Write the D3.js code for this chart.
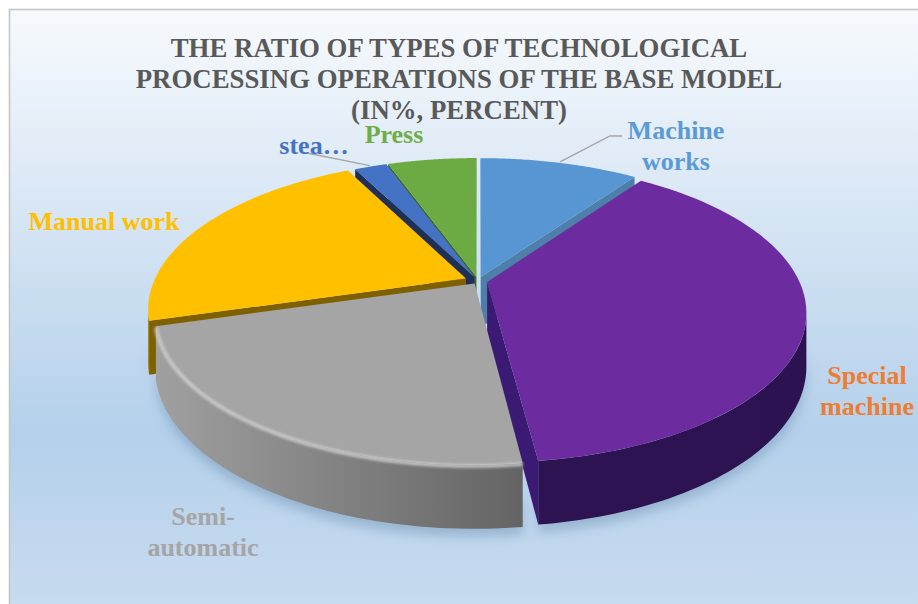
<!DOCTYPE html>
<html>
<head>
<meta charset="utf-8">
<script src="https://cdnjs.cloudflare.com/ajax/libs/d3/7.8.5/d3.min.js"></script>
<style>
html,body{margin:0;padding:0;background:#fff;overflow:hidden}
svg{display:block}
text{font-family:"Liberation Serif",serif;font-weight:700}
</style>
</head>
<body>
<svg id="chart" width="918" height="604"></svg>
<script>
// Share of processing operations, clockwise from twelve o'clock
const categories = ["Machine works", "Special machine", "Semi-automatic", "Manual work", "steam", "Press"];
const shares = [9.8, 38.2, 22.5, 22, 2, 5.5];
const topColors = ["#5796d3", "#6c2c9f", "#a5a5a5", "#ffc000", "#4472c4", "#6cab44"];
const wallColors = ["#4d7fa8", "#3a1a72", "#8a8a8a", "#7f6000", "#1f2f55", "#3f6a2c"];
const rimLeftColors = ["#3a6a96", "#2e1352", "#a0a0a0", "#a58200", "#2b4a80", "#43682b"];
const rimRightColors = ["#3a6a96", "#2c1250", "#646464", "#7f6000", "#2b4a80", "#43682b"];
const titleLines = ["THE RATIO OF TYPES OF TECHNOLOGICAL", "PROCESSING OPERATIONS OF THE BASE MODEL", "(IN%, PERCENT)"];
const labelLines = [["Machine", "works"], ["Special", "machine"], ["Semi-", "automatic"], ["Manual work"], ["stea…"], ["Press"]];
const labelColors = ["#5b9bd5", "#ed7d31", "#a5a5a5", "#ffc000", "#4472c4", "#70ad47"];

const width = 918, height = 604;
const cx = 478, cy = 281;      // pie centre on screen
const radiusX = 312, radiusY = 144;
const perspective = 0.2;       // depth foreshortening of the tilted disc
const thickness = 51;
const explode = [0.03, 0.03, 0.02, 0.042, 0.03, 0.03];

const svg = d3.select("#chart");
const defs = svg.append("defs");

// Chart panel background
const bg = defs.append("linearGradient").attr("id", "panel").attr("x1", 0).attr("x2", 0).attr("y1", 0).attr("y2", 1);
[[0, "#f7fafd"], [0.35, "#d6e5f4"], [0.7, "#b4d0eb"], [1, "#c9dcf0"]].forEach(([o, c]) =>
  bg.append("stop").attr("offset", o).attr("stop-color", c));
svg.append("rect").attr("x", 9.5).attr("y", 9.5).attr("width", width).attr("height", height)
  .attr("fill", "url(#panel)").attr("stroke", "#c4c6c8").attr("stroke-width", 1.6);

defs.append("filter").attr("id", "soft").attr("x", "-20%").attr("y", "-20%").attr("width", "140%").attr("height", "140%")
  .append("feGaussianBlur").attr("stdDeviation", 6);
defs.append("filter").attr("id", "bevel").attr("x", "-20%").attr("y", "-20%").attr("width", "140%").attr("height", "140%")
  .append("feGaussianBlur").attr("stdDeviation", 1.6);

// Perspective projection of a disc point (x to the right, y away from the viewer, z down)
function project(x, y, z) {
  const w = 1 / (1 + perspective * y);
  return [cx + radiusX * x * w, cy - radiusY * y * w + thickness * z * w];
}
const slices = d3.pie().sort(null).value(d => d)(shares);
const line = d3.line();

const geometry = slices.map((s, i) => {
  const mid = (s.startAngle + s.endAngle) / 2;
  const ox = explode[i] * Math.sin(mid), oy = explode[i] * Math.cos(mid);
  const at = (a, r, z) => project(ox + r * Math.sin(a), oy + r * Math.cos(a), z);
  const arc = (z, a0 = s.startAngle, a1 = s.endAngle) => d3.range(0, 61).map(k => at(a0 + (a1 - a0) * k / 60, 1, z));
  return { s, mid, at, arc };
});

// Rim faces point at the viewer only past this angle from the far side
const silhouette = Math.acos(-perspective);
const rimSpan = g => [Math.max(g.s.startAngle, silhouette), Math.min(g.s.endAngle, 2 * Math.PI - silhouette)];

// Soft shadow cast by the front of the disc
const shadow = svg.append("g").attr("filter", "url(#soft)").attr("opacity", 0.33);
geometry.forEach(g => {
  const [a0, a1] = rimSpan(g);
  if (a0 >= a1) return;
  shadow.append("path")
    .attr("d", line(g.arc(1.12, a0, a1).concat(g.arc(0.6, a0, a1).reverse())) + "Z")
    .attr("fill", "#4a6f94");
});

// Rim shading runs left to right across each slice
geometry.forEach((g, i) => {
  const [a0, a1] = rimSpan(g);
  if (a0 >= a1) return;
  const ends = [g.at(a0, 1, 1)[0], g.at(a1, 1, 1)[0]];
  const grad = defs.append("linearGradient").attr("id", "rim" + i)
    .attr("gradientUnits", "userSpaceOnUse")
    .attr("x1", d3.min(ends)).attr("x2", d3.max(ends)).attr("y1", 0).attr("y2", 0);
  grad.append("stop").attr("offset", 0).attr("stop-color", rimLeftColors[i]);
  grad.append("stop").attr("offset", 1).attr("stop-color", rimRightColors[i]);
});

// Paint far slices first, near slices over them
const paintOrder = d3.range(shares.length).sort((a, b) => Math.cos(geometry[b].mid) - Math.cos(geometry[a].mid));
const pie = svg.append("g");
paintOrder.forEach(i => {
  const g = geometry[i], s = g.s;
  const slice = pie.append("g");
  const wall = a => [g.at(a, 0, 0), g.at(a, 1, 0), g.at(a, 1, 1), g.at(a, 0, 1)];
  // d3.polygonArea is positive for counterclockwise rings in screen space
  if (d3.polygonArea(wall(s.startAngle)) > 0)
    slice.append("path").attr("d", line(wall(s.startAngle)) + "Z").attr("fill", wallColors[i]);
  if (d3.polygonArea(wall(s.endAngle)) < 0)
    slice.append("path").attr("d", line(wall(s.endAngle)) + "Z").attr("fill", wallColors[i]);
  const [a0, a1] = rimSpan(g);
  if (a0 < a1)
    slice.append("path")
      .attr("d", line(g.arc(0, a0, a1).concat(g.arc(1, a0, a1).reverse())) + "Z")
      .attr("fill", `url(#rim${i})`);
  const face = line([g.at(s.startAngle, 0, 0)].concat(g.arc(0))) + "Z";
  slice.append("path").attr("d", face).attr("fill", topColors[i]);
  // Rounded edge catching the light along the grey slice
  if (categories[i] === "Semi-automatic") {
    slice.append("path").attr("d", line(g.arc(0.02)))
      .attr("fill", "none").attr("stroke", "#d4d4d4").attr("stroke-width", 3).attr("filter", "url(#bevel)");
  }
});

// Title
svg.append("g").selectAll("text").data(titleLines).join("text")
  .attr("x", 459).attr("y", (d, i) => 57 + i * 31)
  .attr("text-anchor", "middle").attr("font-size", 26.8).attr("fill", "#595959").text(d => d);

// Leader lines, anchored on their slices' rims
const rimPoint = (i, t) => {
  const g = geometry[i];
  return g.at(g.s.startAngle + (g.s.endAngle - g.s.startAngle) * t, 1.01, 0);
};
const leaders = svg.append("g").attr("fill", "none").attr("stroke", "#a6a6a6").attr("stroke-width", 1.4);
leaders.append("path").attr("d", line([rimPoint(0, 0.5), [610, 136], [622, 136]]));
leaders.append("path").attr("d", line([rimPoint(4, 0.5), [307, 153]]));

// Category labels
const labelAnchors = [[676, 139], [867, 384], [203, 525], [104, 230], [314, 154], [394, 143]];
labelLines.forEach((lines, i) => {
  svg.append("g").selectAll("text").data(lines).join("text")
    .attr("x", labelAnchors[i][0]).attr("y", (d, j) => labelAnchors[i][1] + j * 30.5)
    .attr("text-anchor", "middle").attr("font-size", 26).attr("fill", labelColors[i]).text(d => d);
});
</script>
</body>
</html>
